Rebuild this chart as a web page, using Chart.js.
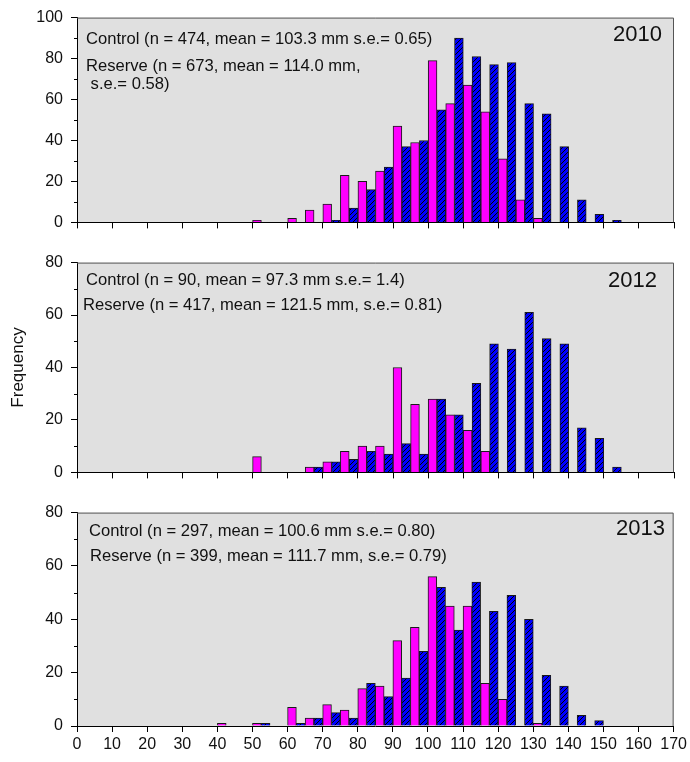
<!DOCTYPE html>
<html>
<head>
<meta charset="utf-8">
<script src="https://cdn.jsdelivr.net/npm/chart.js@4.4.1/dist/chart.umd.min.js"></script>
<style>
  html, body { margin: 0; padding: 0; background: #fff; }
  #wrap { position: relative; width: 690px; height: 762px; }
  #wrap canvas { position: absolute; left: 0; }
</style>
</head>
<body>
<div id="wrap">
  <canvas id="c2010" width="690" height="240" style="top:0px"></canvas>
  <canvas id="c2012" width="690" height="245" style="top:245px"></canvas>
  <canvas id="c2013" width="690" height="267" style="top:495px"></canvas>
</div>
<script>
// 5 mm length classes (lower bound of each class, mm)
const bins = [0, 5, 10, 15, 20, 25, 30, 35, 40, 45, 50, 55, 60, 65, 70, 75, 80,
  85, 90, 95, 100, 105, 110, 115, 120, 125, 130, 135, 140, 145, 150, 155, 160, 165];

// frequencies per class
const control2010 = [0, 0, 0, 0, 0, 0, 0, 0, 0, 0, 1, 0, 2, 6, 9, 23, 20, 25, 47, 39,
  79, 58, 67, 54, 31, 11, 2, 0, 0, 0, 0, 0, 0, 0];
const reserve2010 = [0, 0, 0, 0, 0, 0, 0, 0, 0, 0, 0, 0, 0, 0, 1, 7, 16, 27, 37, 40,
  55, 90, 81, 77, 78, 58, 53, 37, 11, 4, 1, 0, 0, 0];

const control2012 = [0, 0, 0, 0, 0, 0, 0, 0, 0, 0, 6, 0, 0, 2, 4, 8, 10, 10, 40, 26,
  28, 22, 16, 8, 0, 0, 0, 0, 0, 0, 0, 0, 0, 0];
const reserve2012 = [0, 0, 0, 0, 0, 0, 0, 0, 0, 0, 0, 0, 0, 2, 4, 5, 8, 7, 11, 7,
  28, 22, 34, 49, 47, 61, 51, 49, 17, 13, 2, 0, 0, 0];

const control2013 = [0, 0, 0, 0, 0, 0, 0, 0, 1, 0, 1, 0, 7, 3, 8, 6, 14, 15, 32, 37,
  56, 45, 45, 16, 10, 0, 1, 0, 0, 0, 0, 0, 0, 0];
const reserve2013 = [0, 0, 0, 0, 0, 0, 0, 0, 0, 0, 1, 0, 1, 3, 5, 3, 16, 11, 18, 28,
  52, 36, 54, 43, 49, 40, 19, 15, 4, 2, 0, 0, 0, 0];

const notes2010 = ['Control (n = 474, mean = 103.3 mm s.e.= 0.65)',
  'Reserve (n = 673, mean = 114.0 mm,', ' s.e.= 0.58)'];
const notes2012 = ['Control (n = 90, mean = 97.3 mm s.e.= 1.4)',
  'Reserve (n = 417, mean = 121.5 mm, s.e.= 0.81)'];
const notes2013 = ['Control (n = 297, mean = 100.6 mm s.e.= 0.80)',
  'Reserve (n = 399, mean = 111.7 mm, s.e.= 0.79)'];

const FONT = '"Liberation Sans", Arial, sans-serif';
const INK = '#111';

// blue fill with black "////" hatching
function hatch(ctx) {
  const t = document.createElement('canvas');
  t.width = 5; t.height = 5;
  const g = t.getContext('2d');
  g.fillStyle = '#0000ff';
  g.fillRect(0, 0, 5, 5);
  g.strokeStyle = '#000';
  g.lineWidth = 1;
  g.beginPath();
  g.moveTo(0, 5); g.lineTo(5, 0);
  g.moveTo(-1, 1); g.lineTo(1, -1);
  g.moveTo(4, 6); g.lineTo(6, 4);
  g.stroke();
  return ctx.createPattern(t, 'repeat');
}

const panelDecor = {
  id: 'panelDecor',
  beforeDraw(chart) {
    const { ctx, chartArea: a } = chart;
    ctx.save();
    ctx.fillStyle = '#e0e0e0';
    ctx.fillRect(a.left, a.top, a.right - a.left, a.bottom - a.top);
    ctx.restore();
  },
  afterDatasetsDraw(chart, args, o) {
    const { ctx, chartArea: a } = chart;
    const ys = chart.scales.y;
    ctx.save();
    // frame top and right
    ctx.strokeStyle = '#555';
    ctx.lineWidth = 1;
    ctx.beginPath();
    ctx.moveTo(a.left, a.top + 0.5);
    ctx.lineTo(a.right - 0.5, a.top + 0.5);
    ctx.lineTo(a.right - 0.5, a.bottom);
    ctx.stroke();
    // minor y ticks halfway between labelled ones
    ctx.strokeStyle = '#000';
    ctx.beginPath();
    for (let v = 10; v < ys.max; v += 20) {
      const y = Math.round(ys.getPixelForValue(v)) + 0.5;
      ctx.moveTo(a.left - 3, y);
      ctx.lineTo(a.left, y);
    }
    ctx.stroke();
    // sample notes and year
    ctx.fillStyle = INK;
    ctx.textBaseline = 'middle';
    ctx.textAlign = 'left';
    ctx.font = '16.6px ' + FONT;
    o.lines.forEach((ln, i) => ctx.fillText(o.text[i], ln[0], ln[1]));
    ctx.textAlign = 'right';
    ctx.font = '22px ' + FONT;
    ctx.fillText(o.year, o.yearAt[0], o.yearAt[1]);
    ctx.restore();
  }
};

function panel(id, control, reserve, yMax, notes, year, layout) {
  const canvas = document.getElementById(id);
  const ctx = canvas.getContext('2d');
  const toPoints = arr => arr.map((v, i) => ({ x: bins[i] + 2.5, y: v }));
  return new Chart(ctx, {
    type: 'bar',
    data: {
      datasets: [
        { label: 'Control', data: toPoints(control), backgroundColor: '#ff00ff',
          borderColor: '#1a1a1a', borderWidth: 1 },
        { label: 'Reserve', data: toPoints(reserve), backgroundColor: hatch(ctx),
          borderColor: '#1a1a1a', borderWidth: 1 }
      ]
    },
    options: {
      responsive: false,
      animation: false,
      events: [],
      layout: { padding: { top: 13, right: 16, left: 0, bottom: 0 } },
      datasets: { bar: { barPercentage: 1, categoryPercentage: 1 } },
      plugins: {
        legend: { display: false },
        tooltip: { enabled: false },
        panelDecor: { text: notes, lines: layout.lines, year: year, yearAt: layout.yearAt }
      },
      scales: {
        x: {
          type: 'linear', min: 0, max: 170, offset: false,
          ticks: { stepSize: 10, display: layout.xLabels, autoSkip: false, maxRotation: 0,
            padding: 3, color: INK, font: { family: FONT, size: 16 } },
          grid: { offset: false, drawOnChartArea: false, tickLength: 6, tickColor: '#000' },
          border: { color: '#000', width: 1 },
          afterFit: s => { s.height = layout.xH; }
        },
        y: {
          min: 0, max: yMax,
          ticks: { stepSize: 20, padding: 8, color: INK, font: { family: FONT, size: 16 } },
          grid: { drawOnChartArea: false, tickLength: 6, tickColor: '#000' },
          border: { color: '#000', width: 1 },
          title: { display: !!layout.yTitle, text: layout.yTitle || '', color: INK,
            padding: { top: 8 }, font: { family: FONT, size: 17 } },
          afterFit: s => { s.width = 77; }
        }
      }
    },
    plugins: [panelDecor]
  });
}

panel('c2010', control2010, reserve2010, 100, notes2010, '2010', {
  xLabels: false, xH: 17, yearAt: [662, 35],
  lines: [[86, 39], [86, 66], [86, 84]]
});
panel('c2012', control2012, reserve2012, 80, notes2012, '2012', {
  xLabels: false, xH: 16, yearAt: [657, 36], yTitle: 'Frequency',
  lines: [[86, 35], [83, 60]]
});
panel('c2013', control2013, reserve2013, 80, notes2013, '2013', {
  xLabels: true, xH: 36, yearAt: [665, 34],
  lines: [[89, 36], [90, 61]]
});
</script>
</body>
</html>
